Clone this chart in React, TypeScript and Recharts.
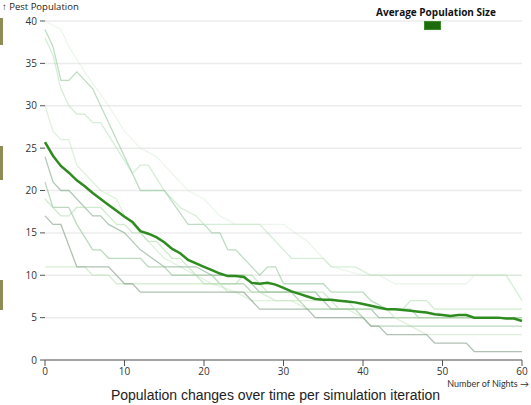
import React from "react";
import { CartesianGrid, Line, LineChart, XAxis, YAxis } from "recharts";

// average population per night (0..60)
const nights = Array.from({ length: 61 }, (_, i) => i);
const avgValues = [
  25.7, 24.1, 22.9, 22.1, 21.2, 20.5, 19.7, 19.0, 18.3, 17.6, 16.9, 16.3, 15.2,
  14.9, 14.5, 13.9, 13.1, 12.6, 11.8, 11.4, 11.0, 10.6, 10.2, 9.9, 9.9, 9.8, 9.1,
  9.0, 9.1, 8.9, 8.5, 8.1, 7.8, 7.5, 7.2, 7.1, 7.1, 7.0, 6.9, 6.8, 6.6, 6.4, 6.2,
  6.0, 6.0, 5.9, 5.8, 5.7, 5.6, 5.4, 5.3, 5.2, 5.3, 5.3, 5.0, 5.0, 5.0, 5.0, 4.9,
  4.9, 4.6,
];

// simulation iterations, [night, population] at each change of slope
const iter1 = [[0,39],[1,37],[2,33],[3,33],[4,34],[6,32],[12,20],[15,20],[18,16],[20,16],[21,15],[22,15],[23,13],[24,13],[27,10],[28,11],[29,11],[30,9],[35,9],[36,8],[40,8],[41,7],[43,6],[46,6],[47,5],[60,5]];
const iter2 = [[0,38],[1,36],[2,32],[3,30],[4,29],[5,29],[6,28],[7,28],[9,25],[11,22],[12,23],[13,23],[15,20],[17,18],[19,17],[20,16],[27,16],[31,12],[35,12],[36,11],[39,11],[41,10],[58,10],[60,7]];
const iter3 = [[0,40],[2,39],[3,37],[5,34],[8,30],[10,27],[12,25],[14,24],[16,22],[18,20],[20,19],[22,17],[24,16],[30,16],[33,14],[36,11],[40,10],[42,10],[44,9],[53,9],[54,10],[60,10]];
const iter4 = [[0,30],[1,27],[2,26],[3,26],[4,23],[5,22],[6,21],[7,20],[9,19],[10,17],[12,15],[13,14],[15,12],[17,11],[19,10],[21,9],[24,8],[26,7],[31,7],[33,6],[38,6],[40,5],[44,5],[46,4],[48,3],[60,3]];
const iter5 = [[0,24],[1,21],[2,20],[3,20],[6,17],[7,17],[8,16],[10,15],[12,13],[15,11],[19,11],[21,10],[25,10],[27,8],[34,8],[36,6],[41,6],[42,5],[60,5]];
const iter6 = [[0,21],[1,18],[3,18],[4,16],[6,13],[7,13],[8,12],[12,12],[13,11],[15,11],[16,10],[21,10],[22,9],[25,9],[26,8],[31,8],[33,6],[39,6],[40,5],[41,4],[60,4]];
const iter7 = [[0,19],[1,18],[2,17],[3,17],[4,18],[7,18],[8,17],[9,16],[10,16],[11,15],[12,15],[13,14],[14,14],[16,12],[17,12],[20,9],[24,9],[25,10],[26,10],[28,8],[35,8],[37,6],[45,6],[46,7],[48,7],[49,6],[60,6]];
const iter8 = [[0,11],[5,11],[6,10],[8,10],[9,9],[22,9],[23,8],[27,8],[29,7],[38,7],[39,6],[43,6],[44,5],[60,5]];
const iter9 = [[0,17],[1,16],[2,16],[4,11],[8,11],[10,9],[11,9],[12,8],[25,8],[27,6],[33,6],[34,5],[40,5],[41,4],[42,4],[43,3],[48,3],[49,2],[53,2],[54,1],[60,1]];

const iterations = [iter1, iter2, iter3, iter4, iter5, iter6, iter7, iter8, iter9];
const iterColors = [
  { stroke: "#8fc79a", opacity: 0.6 },
  { stroke: "#a5d6a7", opacity: 0.45 },
  { stroke: "#c8e6c9", opacity: 0.35 },
  { stroke: "#c5e5c0", opacity: 0.55 },
  { stroke: "#7fa688", opacity: 0.6 },
  { stroke: "#8fbf95", opacity: 0.6 },
  { stroke: "#a9d8a6", opacity: 0.55 },
  { stroke: "#bfe3b8", opacity: 0.6 },
  { stroke: "#879f8b", opacity: 0.65 },
];

const xTicks = [0, 10, 20, 30, 40, 50, 60];
const yTicks = [0, 5, 10, 15, 20, 25, 30, 35, 40];

const avgData = nights.map((n, i) => ({ n, v: avgValues[i] }));
const iterData = iterations.map((pts) => pts.map(([n, v]) => ({ n, v })));

const FONT = "'Open Sans', 'Noto Sans', sans-serif";

export default function App() {
  return (
    <div style={{ position: "relative", width: 531, height: 405, background: "#fff", overflow: "hidden" }}>
      <style>{`body{margin:0}`}</style>
      {/* olive markers along the left edge */}
      <div style={{ position: "absolute", left: 0, top: 18, width: 3, height: 27, background: "#8d8c55" }} />
      <div style={{ position: "absolute", left: 0, top: 146, width: 3, height: 34, background: "#8d8c55" }} />
      <div style={{ position: "absolute", left: 0, top: 280, width: 3, height: 30, background: "#8d8c55" }} />

      <LineChart
        width={531}
        height={405}
        margin={{ top: 21, right: 9, left: 0, bottom: 0 }}
        style={{ fontFamily: FONT }}
      >
        <CartesianGrid vertical={false} stroke="#ececec" strokeWidth={1.5} />
        <XAxis
          dataKey="n"
          type="number"
          domain={[0, 60]}
          ticks={xTicks}
          height={45}
          tickSize={6}
          tickMargin={2}
          stroke="#888"
          axisLine={{ stroke: "#8a8a8a", strokeWidth: 1.5 }}
          tickLine={{ stroke: "#555" }}
          tick={{ fontSize: 10, fill: "#333" }}
          allowDuplicatedCategory={false}
        />
        <YAxis
          type="number"
          domain={[0, 40]}
          ticks={yTicks}
          width={45}
          axisLine={false}
          tickSize={5}
          tickMargin={3}
          tickLine={{ stroke: "#555" }}
          tick={{ fontSize: 10, fill: "#333" }}
        />
        {iterData.map((d, i) => (
          <Line
            key={i}
            data={d}
            dataKey="v"
            type="linear"
            dot={false}
            stroke={iterColors[i].stroke}
            strokeOpacity={iterColors[i].opacity}
            strokeWidth={1.3}
            isAnimationActive={false}
          />
        ))}
        <Line
          data={avgData}
          dataKey="v"
          type="linear"
          dot={false}
          stroke="#2e8b1f"
          strokeWidth={2.5}
          isAnimationActive={false}
        />
      </LineChart>

      <div style={{ position: "absolute", left: 2, top: 1, fontSize: 9.5, fontFamily: FONT, color: "#222", lineHeight: "12px" }}>
        ↑ Pest Population
      </div>
      <div
        style={{
          position: "absolute",
          right: 2,
          top: 378,
          fontSize: 9,
          fontFamily: "Lato, sans-serif",
          color: "#333",
          whiteSpace: "nowrap",
          lineHeight: "11px",
        }}
      >
        Number of Nights →
      </div>
      <div
        style={{
          position: "absolute",
          left: 376,
          top: 5,
          width: 120,
          textAlign: "center",
          fontSize: 10,
          fontWeight: 700,
          fontFamily: FONT,
          color: "#111",
        }}
      >
        Average Population Size
      </div>
      <div
        style={{
          position: "absolute",
          left: 424,
          top: 21,
          width: 15,
          height: 7,
          background: "#1c6b0c",
          border: "1px solid #3d8a2a",
        }}
      />
      <div
        style={{
          position: "absolute",
          left: 0,
          top: 387,
          width: 551,
          textAlign: "center",
          fontSize: 14,
          fontFamily: "'Liberation Sans', Arial, sans-serif",
          color: "#222",
        }}
      >
        Population changes over time per simulation iteration
      </div>
    </div>
  );
}
